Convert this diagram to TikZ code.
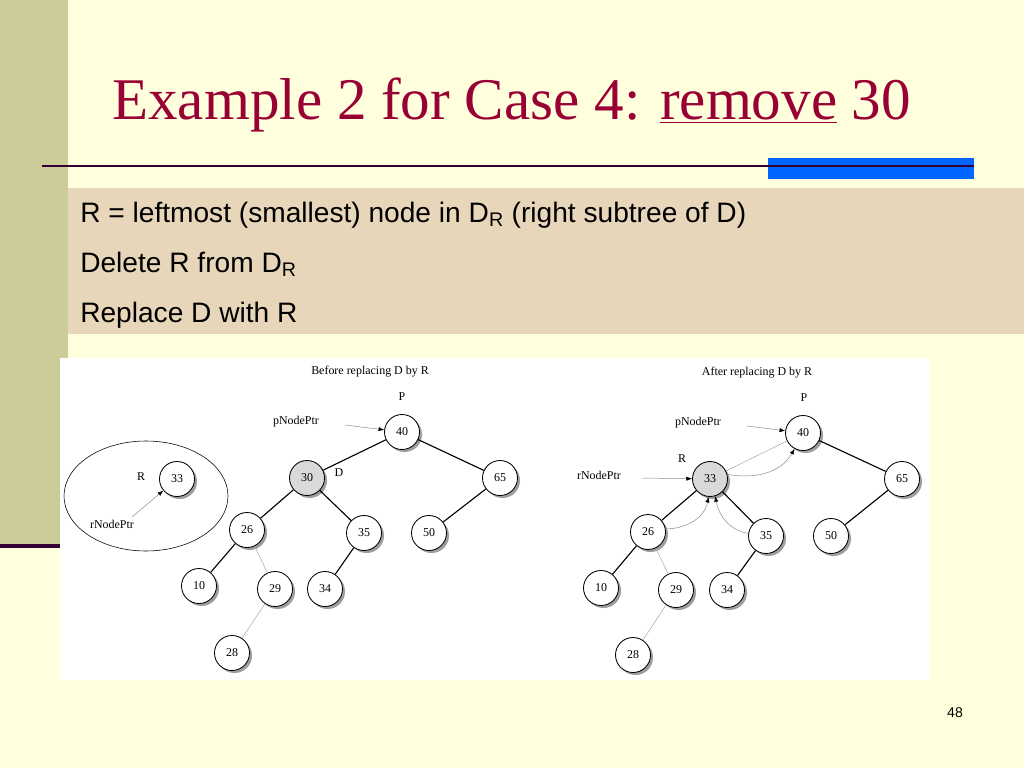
\documentclass[tikz,border=0pt]{standalone}
\usepackage{fontspec}
\setmainfont{Liberation Serif}
\newfontfamily\slidefont{Liberation Sans}
\usetikzlibrary{arrows.meta,shadows}
\definecolor{Cream}{RGB}{255,255,221}
\definecolor{Olive}{RGB}{204,204,153}
\definecolor{Sand}{RGB}{232,214,186}
\definecolor{Wine}{RGB}{153,0,51}
\definecolor{Plum}{RGB}{51,0,51}
\definecolor{Barblue}{RGB}{0,102,255}

\begin{document}
\begin{tikzpicture}[x=0.025cm, y=-0.025cm,
	key/.style={circle, draw, line width=0.6pt, fill=white, minimum size=0.875cm, inner sep=0pt, font=\fontsize{8.5}{10}\selectfont, drop shadow={shadow xshift=1.8pt, shadow yshift=-1.8pt, fill=black!38, opacity=1}},
	hit/.style={key, fill=black!15},
	lbl/.style={font=\fontsize{8.5}{10}\selectfont, inner sep=0pt},
	link/.style={line width=0.8pt},
	faint/.style={line width=0.35pt, color=black!35},
	ptr/.style={line width=0.35pt, color=black!45, -{Latex[length=4pt,width=3pt,black]}},
	bullet/.style={anchor=base west, font=\slidefont\fontsize{20}{24}\selectfont, inner sep=0pt}]
	\useasboundingbox (0,0) rectangle (1024,768);
	\fill[Cream] (0,0) rectangle (1024,768);
	\fill[Olive] (0,0) rectangle (68,544);
	\fill[Plum] (0,544) rectangle (60,548);
	\fill[Barblue] (768,158) rectangle (974,179);
	\draw[Plum, line width=2pt] (42,166) -- (974,166);
	\fill[Sand] (68,188) rectangle (1024,334);
	\fill[white] (60,358) rectangle (930,680);
	\node[anchor=base west, inner sep=0pt, text=Wine, font=\fontsize{42}{50}\selectfont] (title) at (112,120) {Example 2 for Case 4: \underline{remove} 30};
	\node[bullet] (line1) at (80,222) {R = leftmost (smallest) node in D\textsubscript{R} (right subtree of D)};
	\node[bullet] (line2) at (80,272) {Delete R from D\textsubscript{R}};
	\node[bullet] (line3) at (80,322) {Replace D with R};
	\node[font=\slidefont\fontsize{10}{12}\selectfont] (page) at (955,713) {48};

	\node[lbl] (before) at (370,372) {Before replacing D by R};
	\draw (146,496) ellipse [x radius=82, y radius=55];
	\node[key] (b40) at (402,432) {40};
	\node[hit] (b30) at (307,478) {30};
	\node[key] (b65) at (500,478) {65};
	\node[key] (b26) at (247,530) {26};
	\node[key] (b35) at (364,533) {35};
	\node[key] (b50) at (429,533) {50};
	\node[key] (b10) at (199,586) {10};
	\node[key] (b29) at (275,589) {29};
	\node[key] (b34) at (325,589) {34};
	\node[key] (b28) at (232,653) {28};
	\node[key] (b33) at (177,479) {33};
	\node[lbl] (bP) at (402,397) {P};
	\node[lbl] (bD) at (339,473) {D};
	\node[lbl] (bR) at (141,477) {R};
	\node[lbl] (bpptr) at (296,422) {pNodePtr};
	\node[lbl] (brptr) at (112,524) {rNodePtr};
	\coordinate (bpfrom) at (345,425);
	\coordinate (brfrom) at (132,517);
	\draw[link] (b40) -- (b30);
	\draw[link] (b40) -- (b65);
	\draw[link] (b30) -- (b26);
	\draw[link] (b30) -- (b35);
	\draw[link] (b65) -- (b50);
	\draw[link] (b26) -- (b10);
	\draw[link] (b35) -- (b34);
	\draw[faint] (b26) -- (b29);
	\draw[faint] (b29) -- (b28);
	\draw[ptr] (bpfrom) -- (b40);
	\draw[ptr] (brfrom) -- (b33);

	\node[lbl] (after) at (757,373) {After replacing D by R};
	\node[key] (a40) at (803,433) {40};
	\node[hit] (a33) at (710,479) {33};
	\node[key] (a65) at (902,479) {65};
	\node[key] (a26) at (648,532) {26};
	\node[key] (a35) at (766,536) {35};
	\node[key] (a50) at (831,536) {50};
	\node[key] (a10) at (601,588) {10};
	\node[key] (a29) at (676,590) {29};
	\node[key] (a34) at (727,590) {34};
	\node[key] (a28) at (633,655) {28};
	\node[lbl] (aP) at (804,398) {P};
	\node[lbl] (aR) at (682,459) {R};
	\node[lbl] (apptr) at (698,423) {pNodePtr};
	\node[lbl] (arptr) at (599,475) {rNodePtr};
	\coordinate (apfrom) at (747,426);
	\coordinate (arfrom) at (642,478);
	\draw[faint] (a33) -- (a40);
	\draw[link] (a40) -- (a65);
	\draw[link] (a33) -- (a26);
	\draw[link] (a33) -- (a35);
	\draw[link] (a65) -- (a50);
	\draw[link] (a26) -- (a10);
	\draw[link] (a35) -- (a34);
	\draw[faint] (a26) -- (a29);
	\draw[faint] (a29) -- (a28);
	\draw[ptr] (apfrom) -- (a40);
	\draw[ptr] (arfrom) -- (a33);
	\draw[ptr] (a33.15) to[out=-10, in=240] (a40.-118);
	\draw[ptr] (a26.10) to[out=0, in=-100] (a33.-95);
	\draw[ptr] (a35.172) to[out=170, in=-80] (a33.-73);
\end{tikzpicture}
\end{document}
